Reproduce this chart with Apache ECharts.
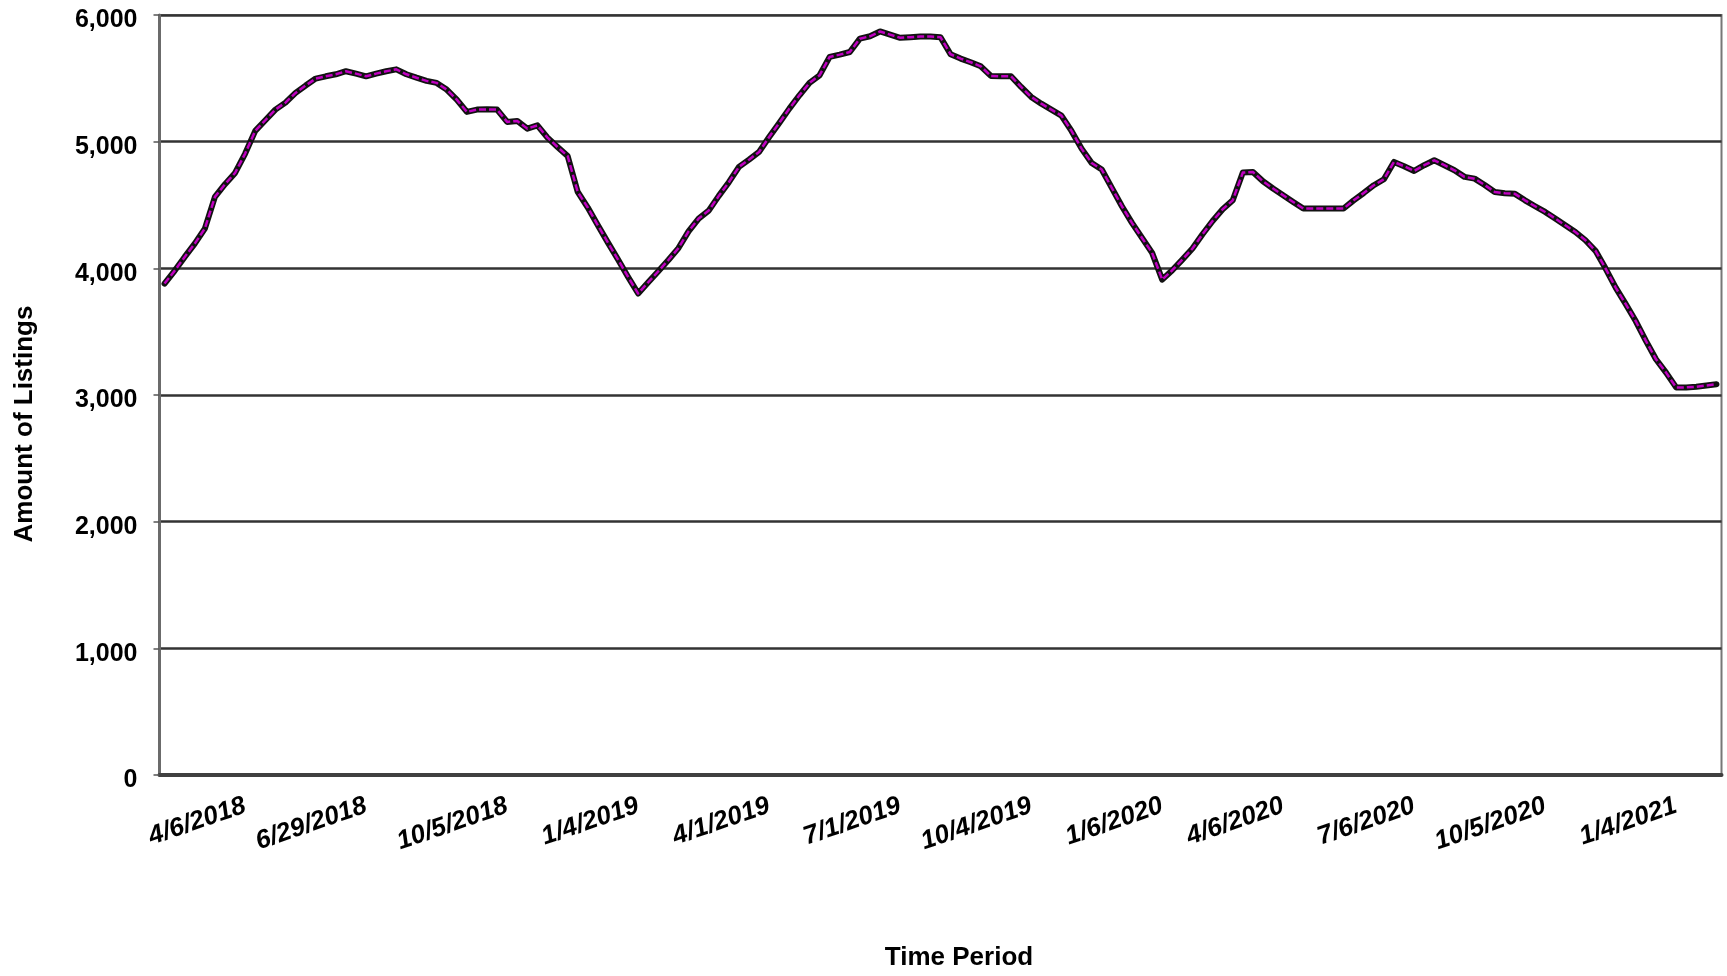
<!DOCTYPE html>
<html>
<head>
<meta charset="utf-8">
<script src="https://cdn.jsdelivr.net/npm/echarts@6/dist/echarts.min.js"></script>
<style>
  html, body { margin: 0; padding: 0; background: #ffffff; }
  #chart { width: 1727px; height: 976px; }
</style>
</head>
<body>
<div id="chart"></div>
<script>
// Weekly count of active listings, one value per week
const listings = [
  3880, 3980, 4090, 4195, 4314, 4564, 4664, 4753, 4906, 5085, 5169, 5253, 5308,
  5385, 5443, 5498, 5516, 5532, 5556, 5537, 5516, 5537, 5556, 5571, 5532, 5505,
  5480, 5464, 5411, 5332, 5235, 5253, 5255, 5253, 5156, 5164, 5103, 5129, 5032,
  4958, 4887, 4603, 4480, 4340, 4203, 4069, 3932, 3801, 3890, 3977, 4066, 4160,
  4292, 4393, 4456, 4572, 4680, 4801, 4858, 4919, 5037, 5148, 5261, 5366, 5464,
  5524, 5669, 5687, 5708, 5813, 5832, 5870, 5845, 5820, 5825, 5830, 5830, 5825,
  5690, 5656, 5627, 5595, 5519, 5516, 5516, 5432, 5353, 5300, 5253, 5206, 5085,
  4945, 4832, 4780, 4635, 4490, 4359, 4240, 4122, 3911, 3985, 4069, 4156, 4269,
  4374, 4466, 4537, 4756, 4761, 4687, 4630, 4577, 4524, 4472, 4472, 4472, 4472,
  4472, 4537, 4595, 4656, 4703, 4840, 4806, 4769, 4814, 4853, 4814, 4774, 4722,
  4708, 4658, 4603, 4593, 4588, 4537, 4490, 4445, 4393, 4340, 4287, 4222, 4138,
  3998, 3848, 3717, 3582, 3427, 3282, 3177, 3060, 3060, 3065, 3075, 3085
];

// Dated weeks shown on the time axis, and the week each date falls on
const tickLabels = [
  '4/6/2018', '6/29/2018', '10/5/2018', '1/4/2019', '4/1/2019', '7/1/2019',
  '10/4/2019', '1/6/2020', '4/6/2020', '7/6/2020', '10/5/2020', '1/4/2021'
];
const tickWeeks = [8, 20, 34, 47, 60, 73, 86, 99, 111, 124, 137, 150];

// One category per week; only the dated weeks carry a label
const categories = listings.map((_, i) => {
  const k = tickWeeks.indexOf(i);
  return k >= 0 ? tickLabels[k] : '';
});

const FONT = '"Liberation Sans", Arial, Helvetica, sans-serif';

const chart = echarts.init(document.getElementById('chart'), null, { renderer: 'canvas' });

chart.setOption({
  animation: false,
  backgroundColor: '#ffffff',
  grid: {
    left: 159.5,
    right: 5.5,
    top: 15,
    bottom: 201,
    show: true,
    borderColor: '#777777',
    borderWidth: 2,
    containLabel: false
  },
  xAxis: {
    type: 'category',
    data: categories,
    boundaryGap: true,
    axisLine: { show: true, lineStyle: { color: '#404040', width: 4 } },
    axisTick: { show: false },
    splitLine: { show: false },
    axisLabel: {
      interval: 0,
      rotate: 19,
      margin: 30,
      color: '#000000',
      fontFamily: FONT,
      fontSize: 26,
      fontWeight: 'bold',
      fontStyle: 'italic'
    }
  },
  yAxis: {
    type: 'value',
    min: 0,
    max: 6000,
    interval: 1000,
    axisLine: { show: true, lineStyle: { color: '#6b6b6b', width: 3 } },
    axisTick: { show: true, inside: false, length: 6, lineStyle: { color: '#555555', width: 1.5 } },
    splitLine: { show: true, lineStyle: { color: '#333333', width: 2.5 } },
    axisLabel: {
      margin: 22,
      color: '#000000',
      fontFamily: FONT,
      fontSize: 25,
      fontWeight: 'bold',
      formatter: v => '{v|' + v.toLocaleString('en-US') + '}',
      rich: {
        v: {
          fontFamily: FONT,
          fontSize: 25,
          fontWeight: 'bold',
          color: '#000000',
          padding: [11, 0, 0, 0]
        }
      }
    }
  },
  series: [
    {
      name: 'Listings outline',
      type: 'line',
      data: listings,
      symbol: 'none',
      silent: true,
      z: 2,
      lineStyle: { color: '#111111', width: 6, join: 'round', cap: 'round' }
    },
    {
      name: 'Listings',
      type: 'line',
      data: listings,
      symbol: 'none',
      z: 3,
      lineStyle: { color: '#c000c0', width: 2.5, type: [7, 3], join: 'round' }
    }
  ],
  graphic: [
    {
      type: 'text',
      x: 25,
      y: 424,
      rotation: Math.PI / 2,
      style: {
        text: 'Amount of Listings',
        fontFamily: FONT,
        fontSize: 26,
        fontWeight: 'bold',
        fill: '#000000',
        align: 'center',
        verticalAlign: 'middle'
      }
    },
    {
      type: 'text',
      x: 959,
      y: 958,
      style: {
        text: 'Time Period',
        fontFamily: FONT,
        fontSize: 26,
        fontWeight: 'bold',
        fill: '#000000',
        align: 'center',
        verticalAlign: 'middle'
      }
    }
  ]
});
</script>
</body>
</html>
